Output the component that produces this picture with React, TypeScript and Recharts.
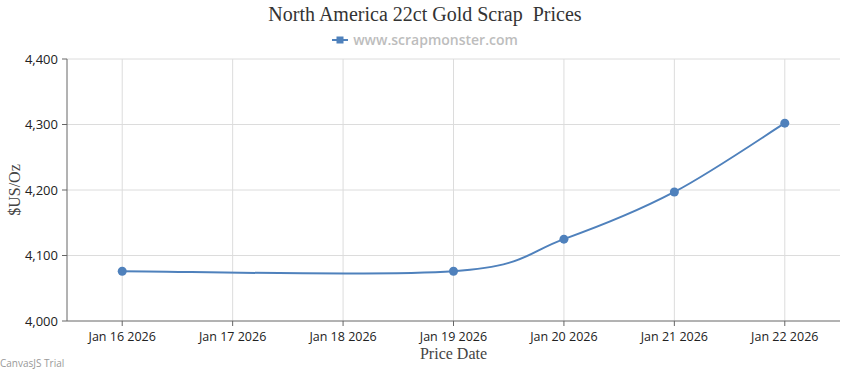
import { LineChart, Line, XAxis, YAxis, CartesianGrid, Label } from 'recharts';

const priceDates = ['2026-01-16', '2026-01-19', '2026-01-20', '2026-01-21', '2026-01-22'];
const prices = [4076, 4076, 4125, 4197, 4302];
const tickDates = ['2026-01-16', '2026-01-17', '2026-01-18', '2026-01-19', '2026-01-20', '2026-01-21', '2026-01-22'];
const priceTicks = [4000, 4100, 4200, 4300, 4400];

const DAY = 86400000;
const MONTHS = ['Jan', 'Feb', 'Mar', 'Apr', 'May', 'Jun', 'Jul', 'Aug', 'Sep', 'Oct', 'Nov', 'Dec'];

const data = priceDates.map((d, i) => ({ date: Date.parse(d), price: prices[i] }));
const xTicks = tickDates.map((d) => Date.parse(d));
const xDomain = [xTicks[0] - DAY / 2, xTicks[xTicks.length - 1] + DAY / 2];

function fmtDate(t: number) {
  const d = new Date(t);
  return `${MONTHS[d.getUTCMonth()]} ${d.getUTCDate()} ${d.getUTCFullYear()}`;
}

// catmull-rom style spline, close to what canvasjs draws
function splineCurve(context: any) {
  let pts: [number, number][] = [];
  return {
    areaStart() {},
    areaEnd() {},
    lineStart() {
      pts = [];
    },
    point(x: number, y: number) {
      pts.push([+x, +y]);
    },
    lineEnd() {
      if (!pts.length) return;
      context.moveTo(pts[0][0], pts[0][1]);
      for (let i = 0; i < pts.length - 1; i++) {
        const p0 = pts[i - 1] || pts[i];
        const p1 = pts[i];
        const p2 = pts[i + 1];
        const p3 = pts[i + 2] || p2;
        const c1x = p1[0] + (p2[0] - p0[0]) / 6;
        const c1y = p1[1] + (p2[1] - p0[1]) / 6;
        const c2x = p2[0] - (p3[0] - p1[0]) / 6;
        const c2y = p2[1] - (p3[1] - p1[1]) / 6;
        context.bezierCurveTo(c1x, c1y, c2x, c2y, p2[0], p2[1]);
      }
    },
  };
}

// grid only at the ticks, no line on the right edge
const gridX = ({ offset }: any) =>
  xTicks.map((t) => offset.left + ((t - xDomain[0]) / (xDomain[1] - xDomain[0])) * offset.width);
const gridY = ({ offset }: any) =>
  priceTicks.slice(1).map((v) => offset.top + ((4400 - v) / 400) * offset.height);

const xTickStyle = { fontFamily: '"Open Sans", sans-serif', fontSize: 12.5, fill: '#222' };
const yTickStyle = { fontFamily: '"Open Sans", sans-serif', fontSize: 13, fill: '#222' };

export default function App() {
  return (
    <div style={{ position: 'absolute', left: 0, top: 0, width: 850, height: 370, background: '#fff' }}>
      <div
        style={{
          position: 'absolute', top: 3, left: 0, width: 850, textAlign: 'center',
          fontFamily: '"Liberation Serif", serif', fontSize: 20, color: '#333', whiteSpace: 'pre',
        }}
      >
        {'North America 22ct Gold Scrap  Prices'}
      </div>
      <div
        style={{
          position: 'absolute', top: 30, left: 0, width: 850, display: 'flex', justifyContent: 'center',
          alignItems: 'center', fontFamily: '"Open Sans", sans-serif', fontSize: 14, fontWeight: 600, color: '#bdbdbd',
        }}
      >
        <svg width={16} height={10} style={{ marginRight: 5 }}>
          <line x1={0} y1={5} x2={16} y2={5} stroke="#4F81BC" strokeWidth={2} />
          <rect x={4.5} y={1.5} width={7} height={7} fill="#4F81BC" />
        </svg>
        www.scrapmonster.com
      </div>
      <LineChart width={850} height={370} data={data} margin={{ top: 59, right: 10, bottom: 0, left: 0 }}>
        <CartesianGrid stroke="#dcdcdc" verticalCoordinatesGenerator={gridX} horizontalCoordinatesGenerator={gridY} />
        <XAxis
          dataKey="date"
          type="number"
          scale="linear"
          height={49}
          domain={xDomain}
          ticks={xTicks}
          tickFormatter={fmtDate}
          tick={xTickStyle}
          tickSize={5}
          tickMargin={6}
          stroke="#666"
          interval={0}
        >
          <Label
            value="Price Date"
            position="insideBottom"
            offset={11}
            style={{ fontFamily: '"Liberation Serif", serif', fontSize: 16, fill: '#444' }}
          />
        </XAxis>
        <YAxis
          width={67}
          domain={[4000, 4400]}
          ticks={priceTicks}
          tickFormatter={(v: number) => v.toLocaleString('en-US')}
          tick={yTickStyle}
          tickSize={5}
          tickMargin={4}
          stroke="#666"
        >
          <Label
            value="$US/Oz"
            angle={-90}
            position="insideLeft"
            offset={14}
            style={{ fontFamily: '"Liberation Serif", serif', fontSize: 16, fill: '#444', textAnchor: 'middle' }}
          />
        </YAxis>
        <Line
          dataKey="price"
          type={splineCurve as any}
          stroke="#4F81BC"
          strokeWidth={2}
          dot={{ r: 4.5, fill: '#4F81BC', stroke: '#4F81BC', strokeWidth: 0 }}
          activeDot={false}
          isAnimationActive={false}
        />
      </LineChart>
      <div
        style={{
          position: 'absolute', left: 0, top: 356, fontFamily: '"Open Sans", sans-serif', fontSize: 10, color: '#999',
        }}
      >
        CanvasJS Trial
      </div>
    </div>
  );
}
